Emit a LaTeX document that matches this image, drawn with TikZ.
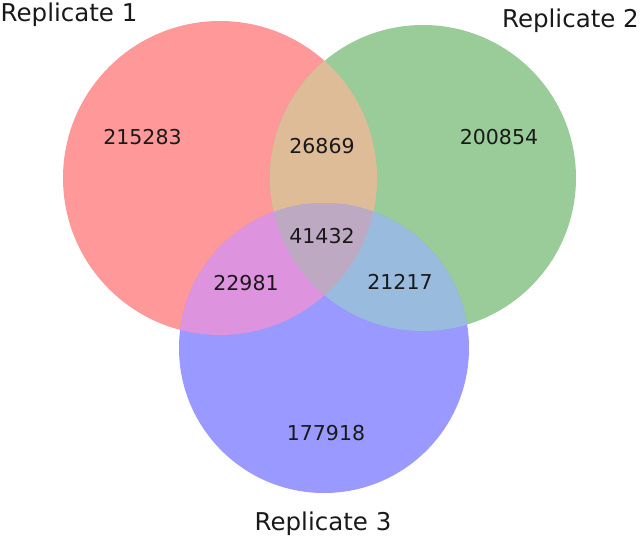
\documentclass[tikz,border=0pt]{standalone}
\usepackage{fontspec}
\setmainfont{DejaVu Sans}
\definecolor{cA}{HTML}{FF9999}
\definecolor{cB}{HTML}{99CC99}
\definecolor{cC}{HTML}{9999FF}
\definecolor{cAB}{HTML}{DFBC98}
\definecolor{cAC}{HTML}{DD93DD}
\definecolor{cBC}{HTML}{99BBDD}
\definecolor{cABC}{HTML}{BEA9C2}
\tikzset{
  num/.style={inner sep=0pt, font=\fontsize{20.5}{24}\selectfont, text=black!90},
  setlabel/.style={inner sep=0pt, font=\fontsize{24.5}{29}\selectfont, text=black!90}
}
\begin{document}
\begin{tikzpicture}[x=1pt,y=-1pt]
\useasboundingbox (0,0) rectangle (641,536);
\coordinate (c1) at (220,178);
\coordinate (c2) at (423,178);
\coordinate (c3) at (324,348);
\def\rA{157}\def\rB{153}\def\rC{145}
% single sets
\fill[cA] (c1) circle[radius=\rA];
\fill[cB] (c2) circle[radius=\rB];
\fill[cC] (c3) circle[radius=\rC];
% pairwise
\begin{scope}
  \clip (c1) circle[radius=\rA];
  \fill[cAB] (c2) circle[radius=\rB];
  \fill[cAC] (c3) circle[radius=\rC];
\end{scope}
\begin{scope}
  \clip (c2) circle[radius=\rB];
  \fill[cBC] (c3) circle[radius=\rC];
\end{scope}
% triple
\begin{scope}
  \clip (c1) circle[radius=\rA];
  \clip (c2) circle[radius=\rB];
  \fill[cABC] (c3) circle[radius=\rC];
\end{scope}
% numbers
\node[num] (n1) at (142.5,137.5) {215283};
\node[num] (n2) at (499,137.5) {200854};
\node[num] (n3) at (326,433.5) {177918};
\node[num] (n12) at (322,146.5) {26869};
\node[num] (n13) at (246,283.5) {22981};
\node[num] (n23) at (400,282) {21217};
\node[num] (n123) at (322,236.5) {41432};
% labels
\node[setlabel, anchor=base west] (l1) at (0.5,21) {Replicate 1};
\node[setlabel, anchor=base east] (l2) at (639,27) {Replicate 2};
\node[setlabel, anchor=base] (l3) at (323,530) {Replicate 3};
\end{tikzpicture}
\end{document}
